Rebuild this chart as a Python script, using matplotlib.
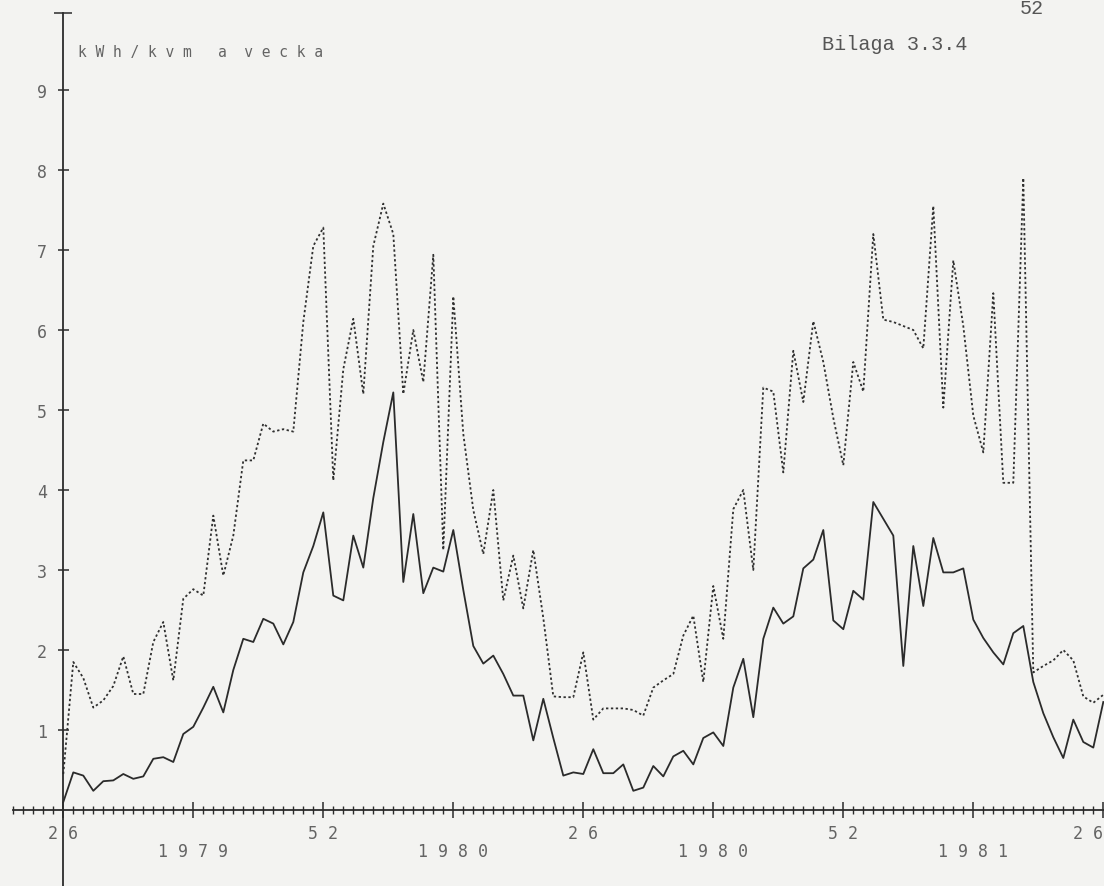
import numpy as np
import matplotlib
matplotlib.use("Agg")
import matplotlib.pyplot as plt
from matplotlib.ticker import FixedLocator

# ---------------- data (kWh/kvm per week, week 26 1979 -> week 26 1981) -------------
solid_values = [
    0.10, 0.47, 0.43, 0.24, 0.36, 0.37, 0.45, 0.39, 0.42, 0.64,
    0.66, 0.60, 0.95, 1.04, 1.28, 1.54, 1.22, 1.75, 2.14, 2.10,
    2.39, 2.33, 2.07, 2.35, 2.97, 3.30, 3.72, 2.68, 2.62, 3.43,
    3.03, 3.90, 4.60, 5.22, 2.85, 3.70, 2.71, 3.03, 2.98, 3.50,
    2.75, 2.05, 1.83, 1.93, 1.70, 1.43, 1.43, 0.87, 1.39, 0.90,
    0.43, 0.47, 0.45, 0.76, 0.46, 0.46, 0.57, 0.24, 0.28, 0.55,
    0.42, 0.67, 0.74, 0.57, 0.90, 0.97, 0.80, 1.53, 1.89, 1.16,
    2.14, 2.53, 2.33, 2.42, 3.02, 3.13, 3.50, 2.37, 2.26, 2.74,
    2.63, 3.85, 3.64, 3.43, 1.80, 3.30, 2.55, 3.40, 2.97, 2.97,
    3.02, 2.38, 2.15, 1.97, 1.82, 2.21, 2.30, 1.60, 1.21, 0.91,
    0.65, 1.13, 0.85, 0.78, 1.35,
]
dotted_values = [
    0.45, 1.85, 1.65, 1.28, 1.37, 1.55, 1.92, 1.45, 1.45, 2.10,
    2.35, 1.62, 2.64, 2.76, 2.68, 3.68, 2.93, 3.43, 4.37, 4.37,
    4.83, 4.73, 4.76, 4.73, 6.10, 7.05, 7.28, 4.12, 5.51, 6.14,
    5.20, 7.05, 7.58, 7.20, 5.20, 6.00, 5.35, 6.94, 3.25, 6.42,
    4.70, 3.75, 3.20, 4.00, 2.62, 3.18, 2.52, 3.25, 2.40, 1.42,
    1.41, 1.41, 1.97, 1.13, 1.27, 1.27, 1.27, 1.25, 1.18, 1.53,
    1.62, 1.70, 2.18, 2.43, 1.60, 2.80, 2.14, 3.76, 4.00, 3.00,
    5.28, 5.23, 4.22, 5.74, 5.10, 6.11, 5.60, 4.90, 4.31, 5.60,
    5.23, 7.20, 6.13, 6.10, 6.05, 6.00, 5.77, 7.55, 5.03, 6.87,
    6.05, 4.93, 4.47, 6.46, 4.09, 4.09, 7.90, 1.72, 1.80, 1.87,
    2.00, 1.87, 1.42, 1.34, 1.44,
]
week_index = np.arange(len(solid_values))

x_major_ticks = [0, 13, 26, 39, 52, 65, 78, 91, 104]
x_major_labels = ["2 6", "\n1 9 7 9", "5 2", "\n1 9 8 0", "2 6",
                  "\n1 9 8 0", "5 2", "\n1 9 8 1", "2 6"]
x_minor_ticks = list(range(-5, 105))
y_ticks = [1, 2, 3, 4, 5, 6, 7, 8, 9]
y_labels = ["1", "2", "3", "4", "5", "6", "7", "8", "9"]

title_text = "k W h / k v m   a  v e c k a"
annex_text = "Bilaga 3.3.4"
page_text = "52"

# ---------------- figure ----------------
W, H = 1104, 887
fig = plt.figure(figsize=(W / 100, H / 100), dpi=100)
fig.patch.set_facecolor("#f3f3f1")
ax = fig.add_axes([0, 0, 1, 1])
ax.set_facecolor("none")

ax.set_xlim(-6.33, 104.07)
ax.set_ylim(-0.95, 10.1375)

ink = "#2b2b2b"
label_col = "#646464"

ax.plot(week_index, dotted_values, color="#303030", lw=1.3,
        linestyle=(0, (1.3, 1.4)), solid_capstyle="butt")
ax.plot(week_index, solid_values, color=ink, lw=1.3)

# spines as the plotter axes
for s in ("top", "right"):
    ax.spines[s].set_visible(False)
ax.spines["left"].set_position(("data", 0))
ax.spines["bottom"].set_position(("data", 0))
ax.spines["left"].set_bounds(-0.95, 9.96)
ax.spines["bottom"].set_bounds(-5, 104.07)
for s in ("left", "bottom"):
    ax.spines[s].set_color(ink)
    ax.spines[s].set_linewidth(1.3)

px = 0.72  # points per pixel at 100 dpi
ax.xaxis.set_major_locator(FixedLocator(x_major_ticks))
ax.xaxis.set_minor_locator(FixedLocator(x_minor_ticks))
ax.set_xticklabels(x_major_labels)
ax.yaxis.set_major_locator(FixedLocator(y_ticks))
ax.yaxis.set_minor_locator(FixedLocator([9.96]))
ax.set_yticklabels(y_labels)

ax.tick_params(axis="x", which="major", direction="inout", length=16 * px,
               width=1.1, color=ink, pad=6.5 * px, labelsize=12,
               labelcolor=label_col)
ax.tick_params(axis="x", which="minor", direction="inout", length=8 * px,
               width=1.0, color=ink)
ax.tick_params(axis="y", which="major", direction="inout", length=11 * px,
               width=1.1, color=ink, pad=11 * px, labelsize=12,
               labelcolor=label_col)
ax.tick_params(axis="y", which="minor", direction="inout", length=18 * px,
               width=1.1, color=ink)
for lab in ax.get_xticklabels() + ax.get_yticklabels():
    lab.set_family("DejaVu Sans Mono")
for lab in ax.get_xticklabels():
    lab.set_linespacing(0.95)
# last label sits at the right page edge: keep it inside the picture
ax.get_xticklabels()[-1].set_horizontalalignment("right")

# texts
fig.text(78 / W, 1 - 53 / H, title_text, family="DejaVu Sans Mono",
         fontsize=10.5, color=label_col, ha="left", va="center")
fig.text(822 / W, 1 - 45 / H, annex_text, family="Liberation Mono",
         fontsize=14.5, color="#555555", ha="left", va="center")
fig.text(1032 / W, 1 - 14 / H, page_text, family="Liberation Mono",
         fontsize=14.5, color="#555555", ha="center", va="baseline")

fig.savefig("out.png", dpi=100, facecolor=fig.get_facecolor())
